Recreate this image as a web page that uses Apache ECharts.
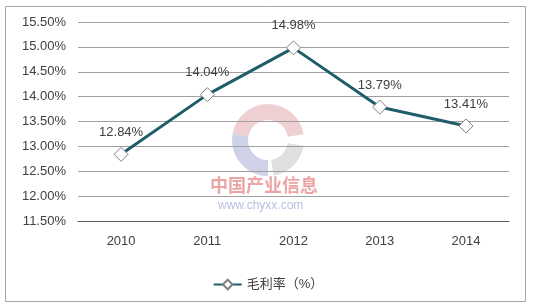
<!DOCTYPE html>
<html><head><meta charset="utf-8">
<script src="https://cdn.jsdelivr.net/npm/echarts@6/dist/echarts.min.js"></script>
<style>html,body{margin:0;padding:0;background:#fff}#c{width:536px;height:308px}</style>
</head><body><div id="c"></div>
<script>
const categories = ['2010','2011','2012','2013','2014'];
const grossMargin = [12.84, 14.04, 14.98, 13.79, 13.41];
const seriesName = '毛利率（%）';
const yMin = 11.5, yMax = 15.5, yStep = 0.5;

const chart = echarts.init(document.getElementById('c'), null, {renderer:'canvas'});
const font = 'Arial, "Liberation Sans", "Noto Sans CJK SC", sans-serif';
chart.setOption({
  animation:false,
  backgroundColor:'#fff',
  textStyle:{fontFamily:font},
  graphic:[
    {type:'rect', shape:{x:5.5,y:6.5,width:520,height:295}, style:{fill:'none',stroke:'#a6a6a6',lineWidth:1}, z:-1},
    {type:'arc', shape:{cx:268,cy:140,r:28,startAngle:Math.PI*1.05,endAngle:Math.PI*1.95}, style:{fill:'none',stroke:'rgba(205,120,130,0.35)',lineWidth:16}, z:-1},
    {type:'arc', shape:{cx:268,cy:140,r:28,startAngle:Math.PI*0.5,endAngle:Math.PI*1.05}, style:{fill:'none',stroke:'rgba(120,130,190,0.35)',lineWidth:16}, z:-1},
    {type:'arc', shape:{cx:268,cy:140,r:28,startAngle:Math.PI*0.05,endAngle:Math.PI*0.45}, style:{fill:'none',stroke:'rgba(150,150,160,0.3)',lineWidth:16}, z:-1},
    {type:'text', left:210, top:176, style:{text:'中国产业信息', fill:'rgba(220,90,90,0.55)', font:'bold 18px "Noto Sans CJK SC"'}, z:-1},
    {type:'text', left:218, top:200, style:{text:'www.chyxx.com', fill:'rgba(120,140,200,0.55)', font:'12px Arial'}, z:-1}
  ],
  grid:{left:78, right:27, top:22, bottom:87},
  legend:{
    data:[seriesName], bottom:12, left:'center',
    itemWidth:28, itemHeight:12, itemGap:4,
    textStyle:{color:'#404040', fontSize:13, fontFamily:font}
  },
  xAxis:{
    type:'category', data:categories, boundaryGap:true,
    axisLine:{lineStyle:{color:'#595959',width:1}},
    axisTick:{show:false},
    axisLabel:{color:'#404040', fontSize:13, margin:14}
  },
  yAxis:{
    type:'value', min:yMin, max:yMax, interval:yStep,
    axisLine:{show:false}, axisTick:{show:false},
    splitLine:{lineStyle:{color:'#a0a0a0',width:1}},
    axisLabel:{color:'#404040', fontSize:13, margin:12, formatter:v=>v.toFixed(2)+'%'}
  },
  series:[{
    name:seriesName, type:'line', data:grossMargin,
    lineStyle:{color:'#1f5d6b', width:3},
    itemStyle:{color:'#fff', borderColor:'#7f7f7f', borderWidth:1},
    symbol:'diamond', symbolSize:[14,14], showAllSymbol:true,
    label:{show:true, position:'top', distance:8, color:'#404040', fontSize:13, formatter:p=>p.value.toFixed(2)+'%'}
  }]
});
</script></body></html>
